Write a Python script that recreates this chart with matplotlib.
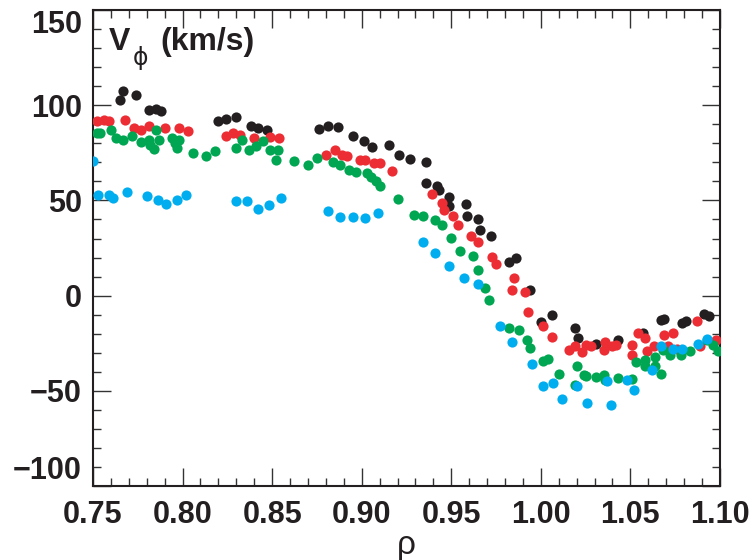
import numpy as np
import matplotlib
matplotlib.use("Agg")
import matplotlib.pyplot as plt
from matplotlib.ticker import MultipleLocator, FixedLocator

plt.rcParams["font.family"] = ["Liberation Sans", "DejaVu Sans"]

# toroidal velocity profiles, four shots
rho_black = [0.765, 0.767, 0.774, 0.781, 0.785, 0.788, 0.820, 0.824, 0.830, 0.838, 0.842, 0.847,
             0.876, 0.881, 0.887, 0.895, 0.901, 0.906, 0.915, 0.921, 0.927, 0.936, 0.936, 0.942,
             0.943, 0.949, 0.949, 0.958, 0.959, 0.965, 0.966, 0.972, 0.982, 0.986, 0.994, 1.000,
             1.006, 1.019, 1.021, 1.031, 1.043, 1.057, 1.067, 1.069, 1.079, 1.081, 1.091, 1.094]
vphi_black = [102.9, 107.3, 105.6, 97.3, 98.0, 96.8, 91.9, 93.0, 93.6, 88.9, 88.1, 86.8,
              87.5, 89.3, 88.6, 83.7, 81.0, 78.1, 79.3, 74.1, 71.8, 70.0, 59.2, 57.4,
              55.7, 51.8, 46.9, 48.2, 41.6, 40.4, 34.7, 31.1, 17.5, 19.8, 3.2, -14.0,
              -10.0, -17.0, -22.2, -25.2, -23.1, -19.6, -12.9, -12.1, -14.2, -13.1, -9.8, -10.5]

rho_red = [0.752, 0.756, 0.759, 0.768, 0.773, 0.777, 0.781, 0.790, 0.798, 0.803, 0.824, 0.828,
           0.832, 0.840, 0.849, 0.854, 0.880, 0.885, 0.889, 0.892, 0.899, 0.902, 0.907, 0.910,
           0.917, 0.939, 0.945, 0.946, 0.951, 0.954, 0.961, 0.965, 0.973, 0.975, 0.985, 0.984,
           0.991, 0.993, 1.001, 1.006, 1.016, 1.019, 1.023, 1.025, 1.028, 1.035, 1.036, 1.040,
           1.042, 1.051, 1.051, 1.054, 1.058, 1.059, 1.063, 1.069, 1.074, 1.071, 1.076, 1.087,
           1.089, 1.098]
vphi_red = [91.5, 92.4, 91.5, 92.1, 88.1, 87.2, 88.9, 88.1, 88.1, 86.3, 83.7, 85.4,
            84.6, 82.8, 83.3, 82.8, 74.1, 76.3, 74.1, 73.2, 71.1, 71.4, 69.7, 69.7,
            65.3, 53.6, 48.7, 45.2, 41.6, 37.3, 31.1, 28.2, 20.3, 16.8, 9.3, 2.8,
            1.7, -8.8, -16.1, -21.7, -28.4, -26.6, -29.8, -25.7, -26.3, -28.4, -24.5, -26.6,
            -25.7, -25.7, -31.0, -19.6, -22.2, -29.3, -26.6, -20.5, -19.6, -26.6, -28.0, -13.5,
            -26.6, -23.1]

rho_green = [0.752, 0.754, 0.760, 0.763, 0.767, 0.772, 0.777, 0.781, 0.782, 0.784, 0.785, 0.787,
             0.794, 0.796, 0.798, 0.797, 0.806, 0.813, 0.818, 0.830, 0.833, 0.837, 0.841, 0.845,
             0.849, 0.852, 0.853, 0.862, 0.870, 0.875, 0.884, 0.888, 0.893, 0.897, 0.903, 0.905,
             0.908, 0.910, 0.920, 0.929, 0.934, 0.941, 0.945, 0.950, 0.955, 0.962, 0.965, 0.969,
             0.971, 0.982, 0.988, 0.992, 0.994, 1.001, 1.004, 1.010, 1.020, 1.019, 1.024, 1.025,
             1.031, 1.035, 1.036, 1.043, 1.051, 1.053, 1.058, 1.058, 1.064, 1.064, 1.067, 1.068,
             1.072, 1.078, 1.083, 1.093, 1.096, 1.099]
vphi_green = [85.4, 85.4, 86.8, 82.8, 81.9, 83.7, 80.5, 81.9, 79.3, 77.0, 87.2, 81.9,
              82.8, 80.2, 81.6, 77.6, 74.9, 73.5, 75.8, 77.6, 81.6, 76.3, 78.8, 81.0,
              76.3, 71.4, 76.7, 70.5, 68.8, 72.3, 70.0, 68.8, 66.2, 64.8, 64.4, 62.3,
              60.0, 57.8, 50.8, 42.5, 41.6, 39.9, 37.3, 30.3, 23.3, 20.6, 13.3, 4.0,
              -2.1, -17.0, -17.9, -23.1, -27.5, -34.5, -33.1, -41.0, -37.1, -46.7, -41.5, -42.4,
              -42.7, -41.5, -44.1, -43.2, -43.8, -35.0, -33.6, -37.1, -32.2, -36.8, -41.0, -28.7,
              -31.0, -31.0, -29.3, -23.1, -25.7, -29.3]

rho_blue = [0.750, 0.753, 0.759, 0.761, 0.769, 0.780, 0.786, 0.791, 0.797, 0.802, 0.830, 0.836,
            0.842, 0.848, 0.855, 0.881, 0.888, 0.895, 0.902, 0.909, 0.934, 0.941, 0.949, 0.957,
            0.965, 0.977, 0.984, 0.995, 1.001, 1.007, 1.012, 1.020, 1.026, 1.037, 1.039, 1.048,
            1.052, 1.062, 1.067, 1.074, 1.079, 1.088, 1.093]
vphi_blue = [70.5, 53.0, 53.0, 51.3, 54.3, 52.2, 50.1, 48.3, 50.1, 53.0, 49.5, 49.5,
             45.5, 47.8, 51.3, 44.3, 41.3, 41.3, 40.8, 43.4, 28.0, 22.4, 15.8, 9.3,
             6.1, -15.8, -24.5, -35.7, -47.3, -45.9, -54.3, -47.3, -56.4, -45.0, -57.2, -44.5,
             -49.4, -38.9, -26.3, -28.0, -28.0, -25.2, -22.7]

x_ticks = [0.75, 0.80, 0.85, 0.90, 0.95, 1.00, 1.05, 1.10]
x_ticklabels = ["0.75", "0.80", "0.85", "0.90", "0.95", "1.00", "1.05", "1.10"]
y_ticks = [-100, -50, 0, 50, 100, 150]
y_ticklabels = ["\u2212100", "\u221250", "0", "50", "100", "150"]

_colors = {
    "black": "#231f20",
    "red": "#ec2d34",
    "green": "#00a651",
    "blue": "#00aeef",
}

fig = plt.figure(figsize=(7.55, 5.6), dpi=100)
ax = fig.add_axes([0.1232, 0.1321, 0.8304, 0.8500])

_size = 54
ax.scatter(rho_black, vphi_black, s=_size, color=_colors["black"], linewidths=0, zorder=3)
ax.scatter(rho_red, vphi_red, s=_size, color=_colors["red"], linewidths=0, zorder=4)
ax.scatter(rho_green, vphi_green, s=_size, color=_colors["green"], linewidths=0, zorder=5)
ax.scatter(rho_blue, vphi_blue, s=_size, color=_colors["blue"], linewidths=0, zorder=6)

ax.set_xlim(0.75, 1.10)
ax.set_ylim(-100, 150)

ax.xaxis.set_major_locator(FixedLocator(x_ticks))
ax.xaxis.set_minor_locator(MultipleLocator(0.01))
ax.yaxis.set_major_locator(FixedLocator(y_ticks))
ax.yaxis.set_minor_locator(MultipleLocator(10))
ax.set_xticklabels(x_ticklabels)
ax.set_yticklabels(y_ticklabels)

ax.tick_params(which="both", direction="in", top=True, right=True,
               width=1.0, color="#333333")
ax.tick_params(which="major", length=13)
ax.tick_params(which="minor", length=6)
ax.tick_params(axis="x", which="major", pad=10, labelsize=22)
ax.tick_params(axis="y", which="major", pad=8, labelsize=22)
for lab in ax.get_xticklabels() + ax.get_yticklabels():
    lab.set_fontweight("bold")
    lab.set_color("#231f20")

# end labels sit inside the frame
ylabs = ax.get_yticklabels()
ylabs[0].set_va("bottom")
ylabs[-1].set_va("top")

for sp in ax.spines.values():
    sp.set_linewidth(1.5)
    sp.set_color("#231f20")

ax.set_xlabel("\u03c1", fontsize=24, labelpad=0, color="#231f20")

# panel title V_phi (km/s)
ax.text(0.025, 0.916, "V", transform=ax.transAxes, fontsize=23, fontweight="bold",
        color="#231f20", va="baseline")
ax.text(0.064, 0.884, "\u03d5", transform=ax.transAxes, fontsize=17,
        family=["DejaVu Sans"], color="#231f20", va="baseline")
ax.text(0.107, 0.916, "(km/s)", transform=ax.transAxes, fontsize=23, fontweight="bold",
        color="#231f20", va="baseline")

plt.savefig("out.png", dpi=100)
